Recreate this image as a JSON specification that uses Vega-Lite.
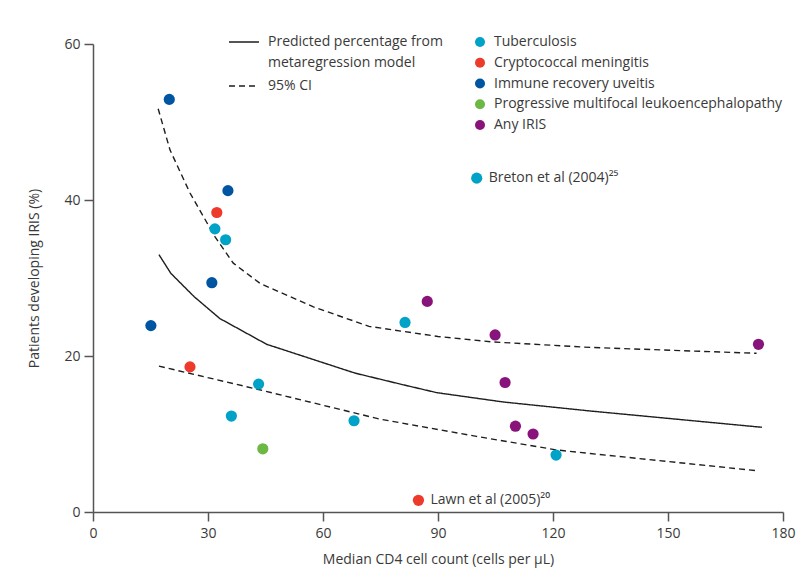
{
  "$schema": "https://vega.github.io/schema/vega-lite/v6.json",
  "width": 690,
  "height": 468,
  "autosize": {"type": "none"},
  "padding": {"left": 93, "top": 44, "right": 23, "bottom": 69},
  "background": "white",
  "datasets": {
    "points": [
      {"type": "Tuberculosis", "cd4": 31.8, "pct": 36.3},
      {"type": "Tuberculosis", "cd4": 34.6, "pct": 34.9},
      {"type": "Tuberculosis", "cd4": 43.2, "pct": 16.4},
      {"type": "Tuberculosis", "cd4": 36.1, "pct": 12.3},
      {"type": "Tuberculosis", "cd4": 68.1, "pct": 11.7},
      {"type": "Tuberculosis", "cd4": 100.1, "pct": 42.8, "note": "Breton et al (2004)²⁵"},
      {"type": "Tuberculosis", "cd4": 81.4, "pct": 24.3},
      {"type": "Tuberculosis", "cd4": 120.8, "pct": 7.3},
      {"type": "Cryptococcal meningitis", "cd4": 32.3, "pct": 38.4},
      {"type": "Cryptococcal meningitis", "cd4": 25.3, "pct": 18.6},
      {"type": "Cryptococcal meningitis", "cd4": 84.9, "pct": 1.5, "note": "Lawn et al (2005)²⁰"},
      {"type": "Immune recovery uveitis", "cd4": 19.9, "pct": 52.9},
      {"type": "Immune recovery uveitis", "cd4": 35.2, "pct": 41.2},
      {"type": "Immune recovery uveitis", "cd4": 31.0, "pct": 29.4},
      {"type": "Immune recovery uveitis", "cd4": 15.1, "pct": 23.9},
      {"type": "Progressive multifocal leukoencephalopathy", "cd4": 44.3, "pct": 8.1},
      {"type": "Any IRIS", "cd4": 87.2, "pct": 27.0},
      {"type": "Any IRIS", "cd4": 104.9, "pct": 22.7},
      {"type": "Any IRIS", "cd4": 107.5, "pct": 16.6},
      {"type": "Any IRIS", "cd4": 110.2, "pct": 11.0},
      {"type": "Any IRIS", "cd4": 114.8, "pct": 10.0},
      {"type": "Any IRIS", "cd4": 173.6, "pct": 21.5}
    ],
    "lines": [
      {"series": "Predicted percentage from metaregression model", "bound": "fit", "cd4": 17.2, "pct": 33.0},
      {"series": "Predicted percentage from metaregression model", "bound": "fit", "cd4": 20.3, "pct": 30.6},
      {"series": "Predicted percentage from metaregression model", "bound": "fit", "cd4": 26.4, "pct": 27.6},
      {"series": "Predicted percentage from metaregression model", "bound": "fit", "cd4": 33.1, "pct": 24.8},
      {"series": "Predicted percentage from metaregression model", "bound": "fit", "cd4": 45.3, "pct": 21.5},
      {"series": "Predicted percentage from metaregression model", "bound": "fit", "cd4": 68.4, "pct": 17.8},
      {"series": "Predicted percentage from metaregression model", "bound": "fit", "cd4": 81.0, "pct": 16.3},
      {"series": "Predicted percentage from metaregression model", "bound": "fit", "cd4": 89.7, "pct": 15.3},
      {"series": "Predicted percentage from metaregression model", "bound": "fit", "cd4": 107.1, "pct": 14.1},
      {"series": "Predicted percentage from metaregression model", "bound": "fit", "cd4": 129.7, "pct": 12.95},
      {"series": "Predicted percentage from metaregression model", "bound": "fit", "cd4": 174.5, "pct": 10.86},
      {"series": "95% CI", "bound": "upper", "cd4": 17.0, "pct": 51.7},
      {"series": "95% CI", "bound": "upper", "cd4": 20.1, "pct": 46.4},
      {"series": "95% CI", "bound": "upper", "cd4": 25.3, "pct": 40.9},
      {"series": "95% CI", "bound": "upper", "cd4": 31.8, "pct": 35.3},
      {"series": "95% CI", "bound": "upper", "cd4": 36.6, "pct": 31.9},
      {"series": "95% CI", "bound": "upper", "cd4": 43.6, "pct": 29.3},
      {"series": "95% CI", "bound": "upper", "cd4": 57.5, "pct": 26.3},
      {"series": "95% CI", "bound": "upper", "cd4": 72.0, "pct": 23.8},
      {"series": "95% CI", "bound": "upper", "cd4": 90.0, "pct": 22.5},
      {"series": "95% CI", "bound": "upper", "cd4": 104.4, "pct": 21.8},
      {"series": "95% CI", "bound": "upper", "cd4": 129.7, "pct": 21.1},
      {"series": "95% CI", "bound": "upper", "cd4": 173.1, "pct": 20.35},
      {"series": "95% CI", "bound": "lower", "cd4": 17.2, "pct": 18.7},
      {"series": "95% CI", "bound": "lower", "cd4": 43.2, "pct": 15.7},
      {"series": "95% CI", "bound": "lower", "cd4": 74.9, "pct": 11.9},
      {"series": "95% CI", "bound": "lower", "cd4": 100.0, "pct": 9.7},
      {"series": "95% CI", "bound": "lower", "cd4": 121.0, "pct": 7.95},
      {"series": "95% CI", "bound": "lower", "cd4": 129.7, "pct": 7.5},
      {"series": "95% CI", "bound": "lower", "cd4": 173.1, "pct": 5.3}
    ]
  },
  "config": {
    "view": {"stroke": null},
    "font": "Open Sans",
    "axis": {
      "grid": false,
      "labelFlush": false,
      "domainColor": "#555555",
      "domainWidth": 1.5,
      "tickColor": "#555555",
      "tickWidth": 1.5,
      "tickSize": 9,
      "labelFont": "Open Sans",
      "labelFontSize": 14,
      "labelColor": "#3a3a3a",
      "titleFont": "Open Sans",
      "titleFontSize": 14,
      "titleFontWeight": "normal",
      "titleColor": "#3a3a3a"
    },
    "legend": {
      "labelFont": "Open Sans",
      "labelFontSize": 14,
      "labelColor": "#3a3a3a",
      "padding": 0,
      "offset": 0
    }
  },
  "layer": [
    {
      "data": {"name": "lines"},
      "mark": {"type": "line", "color": "#1e1e1e", "strokeWidth": 1.4},
      "encoding": {
        "x": {
          "field": "cd4", "type": "quantitative",
          "scale": {"domain": [0, 180], "nice": false},
          "axis": {"values": [0, 30, 60, 90, 120, 150, 180], "labelFlush": false, "labelPadding": 5, "titlePadding": 12, "title": "Median CD4 cell count (cells per μL)"}
        },
        "y": {
          "field": "pct", "type": "quantitative",
          "scale": {"domain": [0, 60], "nice": false},
          "axis": {"values": [0, 20, 40, 60], "labelFlush": false, "labelPadding": 4, "titlePadding": 22, "title": "Patients developing IRIS (%)"}
        },
        "detail": {"field": "bound"},
        "strokeDash": {
          "field": "series", "type": "nominal",
          "scale": {"domain": ["Predicted percentage from metaregression model", "95% CI"], "range": [[1, 0], [6, 4]]},
          "legend": {
            "title": null,
            "orient": "none",
            "legendX": 135,
            "legendY": -18,
            "symbolType": "stroke",
            "symbolSize": 900,
            "symbolStrokeColor": "#1e1e1e",
            "symbolStrokeWidth": 1.4,
            "labelOffset": 8,
            "rowPadding": -4,
            "labelLimit": 400,
            "labelExpr": "datum.label == 'Predicted percentage from metaregression model' ? ['Predicted percentage from', 'metaregression model'] : datum.label",
            "encode": {"labels": {"update": {"lineHeight": {"value": 21}}}}
          }
        }
      }
    },
    {
      "data": {"name": "points"},
      "mark": {"type": "circle", "size": 125, "opacity": 1},
      "encoding": {
        "x": {"field": "cd4", "type": "quantitative"},
        "y": {"field": "pct", "type": "quantitative"},
        "color": {
          "field": "type", "type": "nominal",
          "scale": {
            "domain": ["Tuberculosis", "Cryptococcal meningitis", "Immune recovery uveitis", "Progressive multifocal leukoencephalopathy", "Any IRIS"],
            "range": ["#00a2c7", "#ee3a2b", "#0055a2", "#6db744", "#88137a"]
          },
          "legend": {
            "title": null,
            "orient": "none",
            "legendX": 380,
            "legendY": -9,
            "symbolType": "circle",
            "symbolSize": 100,
            "symbolOpacity": 1,
            "labelOffset": 7,
            "rowPadding": 6.75,
            "labelLimit": 400
          }
        }
      }
    },
    {
      "data": {"name": "points"},
      "transform": [{"filter": "datum.note != null"}],
      "mark": {"type": "text", "align": "left", "baseline": "middle", "dx": 12, "fontSize": 14, "color": "#3a3a3a", "font": "Open Sans"},
      "encoding": {
        "x": {"field": "cd4", "type": "quantitative"},
        "y": {"field": "pct", "type": "quantitative"},
        "text": {"field": "note"}
      }
    }
  ]
}
